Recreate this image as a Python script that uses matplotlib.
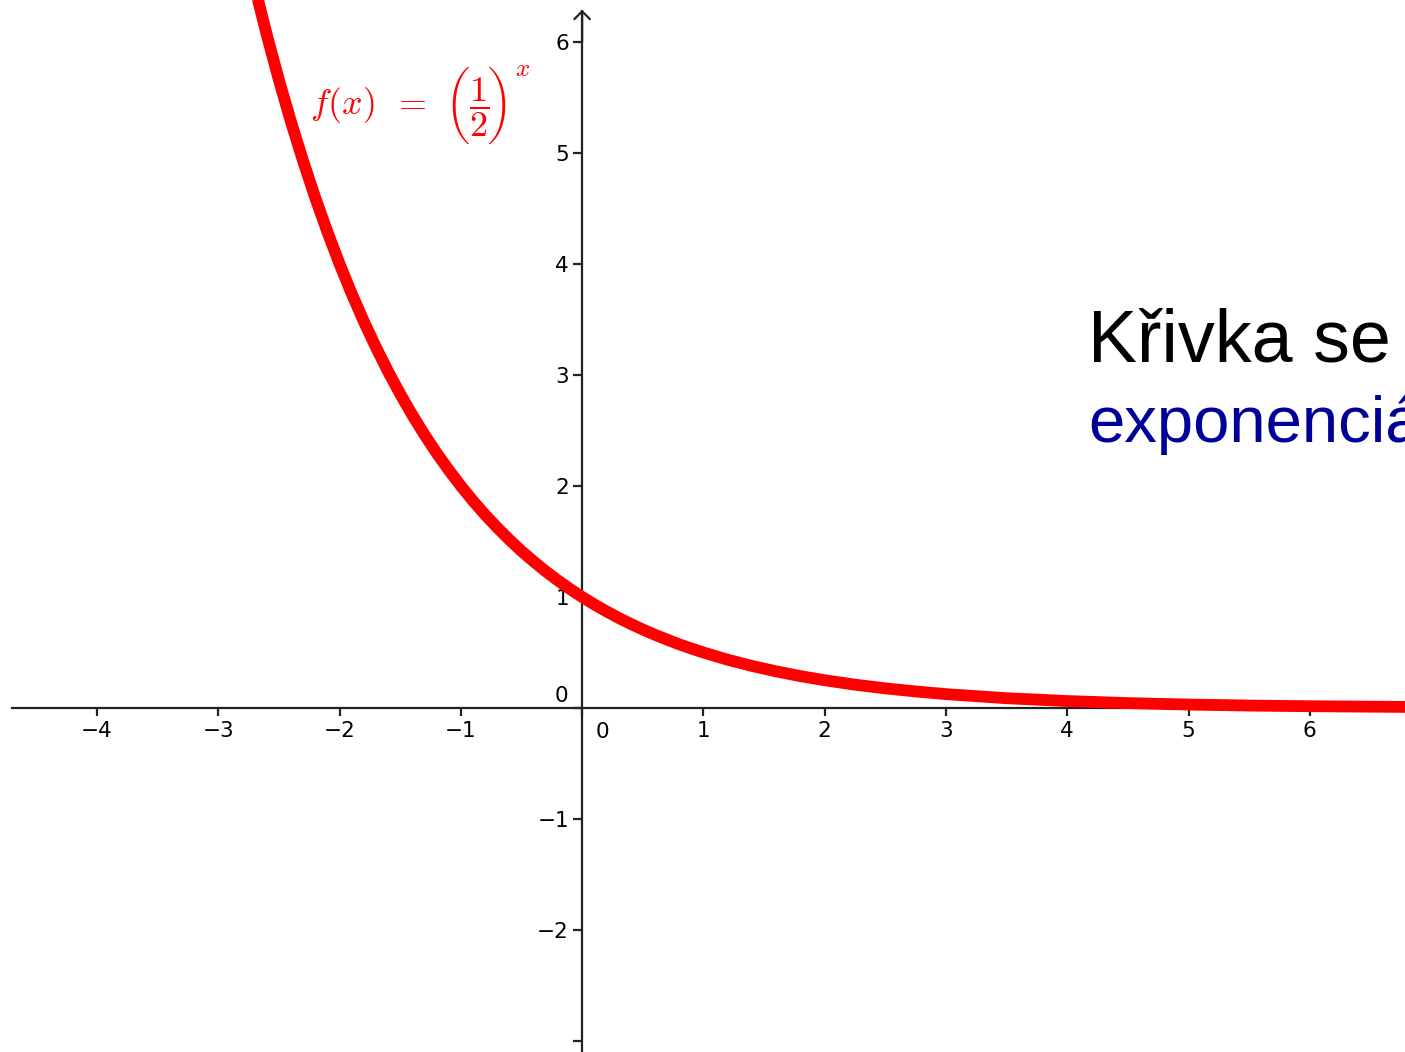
import os
import matplotlib
matplotlib.use("Agg")
import matplotlib.pyplot as plt
from matplotlib.font_manager import FontProperties

# curve f(x) = (1/2)^x
curve_x = [-2.8, -2.7, -2.6, -2.5, -2.4, -2.3, -2.2, -2.1, -2.0, -1.9, -1.8, -1.7,
           -1.6, -1.5, -1.4, -1.3, -1.2, -1.1, -1.0, -0.9, -0.8, -0.7, -0.6, -0.5,
           -0.4, -0.3, -0.2, -0.1, 0.0, 0.1, 0.2, 0.3, 0.4, 0.5, 0.6, 0.7, 0.8, 0.9,
           1.0, 1.2, 1.4, 1.6, 1.8, 2.0, 2.25, 2.5, 2.75, 3.0, 3.5, 4.0, 4.5, 5.0,
           5.5, 6.0, 7.0]
curve_y = [6.964, 6.498, 6.063, 5.657, 5.278, 4.925, 4.595, 4.287, 4.0, 3.732, 3.482, 3.249,
           3.031, 2.828, 2.639, 2.462, 2.297, 2.144, 2.0, 1.866, 1.741, 1.625, 1.516, 1.414,
           1.320, 1.231, 1.149, 1.072, 1.0, 0.933, 0.871, 0.812, 0.758, 0.707, 0.660, 0.616, 0.574, 0.536,
           0.5, 0.435, 0.379, 0.330, 0.287, 0.25, 0.210, 0.177, 0.149, 0.125, 0.088, 0.0625, 0.044, 0.031,
           0.022, 0.016, 0.008]

x_ticks = [-4, -3, -2, -1, 0, 1, 2, 3, 4, 5, 6]
y_ticks = [-3, -2, -1, 0, 1, 2, 3, 4, 5, 6]
x_ticklabels = ["\u22124", "\u22123", "\u22122", "\u22121", "", "1", "2", "3", "4", "5", "6"]
y_ticklabels = ["", "\u22122", "\u22121", "", "1", "2", "3", "4", "5", "6"]

formula_lhs = r"$f(x)\ \,=$"
formula_frac = r"$\dfrac{1}{2}$"
formula_exp = r"$x$"
title_line1 = "Křivka se"
title_line2 = "exponenciá"

plt.rcParams['mathtext.fontset'] = 'cm'
plt.rcParams['font.family'] = ['DejaVu Sans']

W, H = 1405, 1052
fig = plt.figure(figsize=(W / 100, H / 100), dpi=100)
ax = fig.add_axes([0, 0, 1, 1])
ax.set_xlim(-4.80, 6.785)
ax.set_ylim(-3.099, 6.378)


def px(x, y):
    # pixel position from the top-left corner -> figure fraction
    return x / W, 1 - y / H


axis_col = '#222222'
for side in ['top', 'right']:
    ax.spines[side].set_visible(False)
ax.spines['left'].set_position(('data', 0))
ax.spines['bottom'].set_position(('data', 0))
ax.spines['bottom'].set_bounds(-4.70, 6.785)
ax.spines['left'].set_bounds(-3.099, 6.28)
for side in ['left', 'bottom']:
    ax.spines[side].set_color(axis_col)
    ax.spines[side].set_linewidth(1.6)

# arrow head on top of the y axis
ax.annotate('', xy=(0, 6.29), xytext=(0, 6.0),
            arrowprops=dict(arrowstyle='->,head_length=0.35,head_width=0.35',
                            lw=1.6, color=axis_col, mutation_scale=16,
                            shrinkA=0, shrinkB=0))

ax.set_xticks(x_ticks)
ax.set_xticklabels(x_ticklabels)
ax.set_yticks(y_ticks)
ax.set_yticklabels(y_ticklabels)
ax.tick_params(axis='x', direction='out', length=5.5, width=1.6, color=axis_col,
               labelsize=15.5, pad=4)
ax.tick_params(axis='y', direction='out', length=6.5, width=1.6, color=axis_col,
               labelsize=15.5, pad=3)

# zero labels sit beside the axes
ax.annotate('0', xy=(0, 0), xytext=(14.4, -17.3), textcoords='offset points',
            ha='center', va='center', fontsize=15.5)
ax.annotate('0', xy=(0, 0), xytext=(-15, 8.6), textcoords='offset points',
            ha='center', va='center', fontsize=15.5)

ax.plot(curve_x, curve_y, color='#ff0000', lw=8.5, solid_capstyle='butt',
        solid_joinstyle='round', zorder=5, clip_on=True)

# formula label, built from pieces so the big parentheses match
red = '#ff0000'
cmex = FontProperties(fname=os.path.join(matplotlib.get_data_path(), 'fonts', 'ttf', 'cmex10.ttf'),
                      size=23.5)
fig.text(*px(310, 114), formula_lhs, color=red, fontsize=26, ha='left', va='baseline')
fig.text(*px(457, 105), '\xb5', color=red, fontproperties=cmex, ha='center', va='center')
fig.text(*px(479, 107), formula_frac, color=red, fontsize=26, ha='center', va='center')
fig.text(*px(500, 105), '\xb6', color=red, fontproperties=cmex, ha='center', va='center')
fig.text(*px(515, 69), formula_exp, color=red, fontsize=18, ha='left', va='center')

ax.text(4.17, 3.117, title_line1, color='black', fontsize=53,
        family='Liberation Sans', ha='left', va='baseline')
ax.text(4.17, 2.396, title_line2, color='#000099', fontsize=47,
        family='Liberation Sans', ha='left', va='baseline')

fig.savefig("out.png", dpi=100)
